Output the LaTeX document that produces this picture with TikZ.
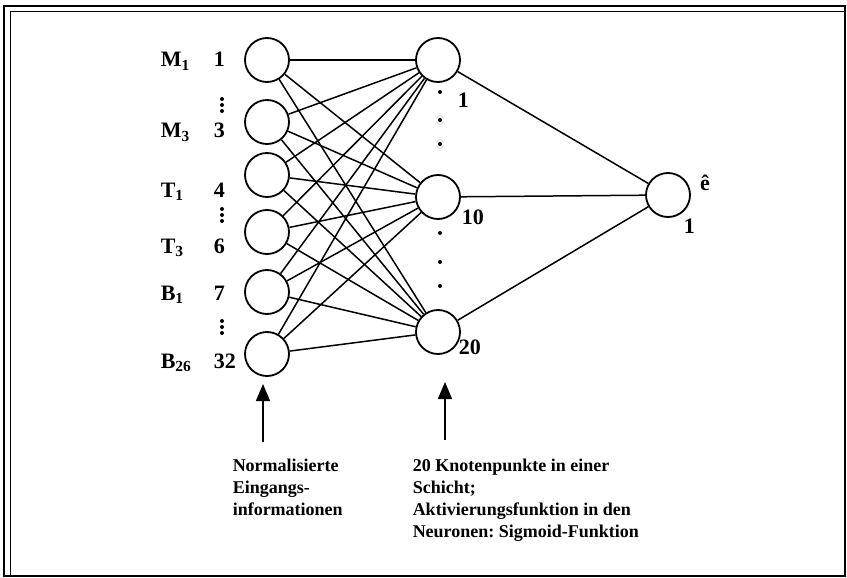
\documentclass[tikz,border=0pt]{standalone}
\usepackage{fontspec}
\setmainfont{Liberation Serif}
\usetikzlibrary{arrows.meta}
\frenchspacing
\begin{document}
\begin{tikzpicture}[x=1pt,y=-1pt,line width=1.5pt,
    neuron/.style={circle,draw,line width=1.8pt,minimum size=44pt,inner sep=0pt},
    lab/.style={anchor=base west,inner sep=0pt,font=\fontsize{22}{24}\selectfont\bfseries},
    note/.style={anchor=north west,inner sep=0pt,align=left,font=\fontsize{18}{22}\selectfont\bfseries},
    pointer/.style={line width=1.5pt,-{Triangle[width=14pt,length=17pt]}}]
  \useasboundingbox (0,0) rectangle (847,578);
  % frame
  \draw[line width=2pt] (4,6) rectangle (845,576);
  \draw[line width=0.7pt] (10,576) -- (10,11) -- (845,11);
  % layers
  \foreach \n/\y in {1/60,2/122,3/175,4/232,5/292,6/354}{
    \node[neuron] (in\n) at (267,\y) {};
  }
  \foreach \n/\y in {1/60,2/197,3/332}{
    \node[neuron] (hid\n) at (438,\y) {};
  }
  \node[neuron] (out) at (668,195) {};
  \foreach \i in {1,...,6}
    \foreach \j in {1,2,3}
      \draw (in\i) -- (hid\j);
  \foreach \j in {1,2,3}
    \draw (hid\j) -- (out);
  % input labels
  \node[lab] (lM1) at (160,67) {M\textsubscript{1}};
  \node[lab] (lM3) at (160,138) {M\textsubscript{3}};
  \node[lab] (lT1) at (160,197) {T\textsubscript{1}};
  \node[lab] (lT3) at (160,253) {T\textsubscript{3}};
  \node[lab] (lB1) at (160,300) {B\textsubscript{1}};
  \node[lab] (lB26) at (160,368) {B\textsubscript{26}};
  \foreach \t/\y in {1/67,3/138,4/197,6/253,7/300,32/368}{
    \node[lab] (num\t) at (213,\y) {\t};
  }
  \foreach \y in {105,215,327}
    \foreach \d in {-6,0,6}
      \fill (222,\y+\d) circle (2);
  % hidden and output labels
  \foreach \y in {92,120,144,233,262,286}
    \fill (440,\y) circle (2);
  \node[lab] (h1) at (457,108) {1};
  \node[lab] (h10) at (461,224) {10};
  \node[lab] (h20) at (458,354) {20};
  \node[lab,anchor=base] (ehat) at (705,190) {ê};
  \node[lab] (o1) at (683,233) {1};
  % notes
  \coordinate (inTail) at (263,442);
  \coordinate (inTip) at (263,384);
  \coordinate (hidTail) at (445,440);
  \coordinate (hidTip) at (445,382);
  \draw[pointer] (inTail) -- (inTip);
  \draw[pointer] (hidTail) -- (hidTip);
  \node[note] (noteIn) at (232,458) {Normalisierte\\Eingangs-\\informationen};
  \node[note] (noteHid) at (412,458) {20 Knotenpunkte in einer\\Schicht;\\Aktivierungsfunktion in den\\Neuronen: Sigmoid-Funktion};
\end{tikzpicture}
\end{document}
